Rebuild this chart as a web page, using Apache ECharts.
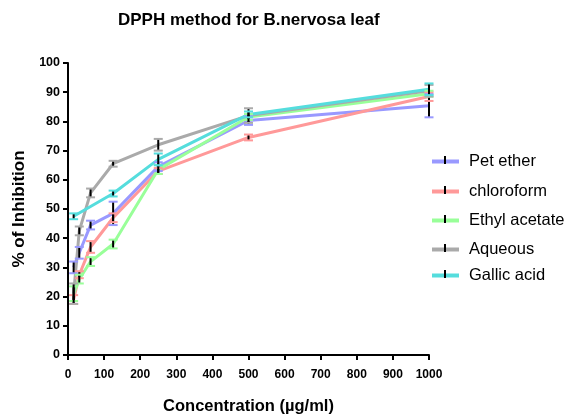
<!DOCTYPE html>
<html>
<head>
<meta charset="utf-8">
<script src="https://cdn.jsdelivr.net/npm/echarts@6/dist/echarts.min.js"></script>
<style>html,body{margin:0;padding:0;background:#fff}#c{width:569px;height:414px}</style>
</head>
<body>
<div id="c"></div>
<script>
const concentrations = [15.625, 31.25, 62.5, 125, 250, 500, 1000];
const gallicConcentrations = [15.625, 125, 250, 500, 1000];
const seriesNames = ['Pet ether', 'chloroform', 'Ethyl acetate', 'Aqueous', 'Gallic acid'];
const petEther = [30, 35, 44.5, 48.5, 64.5, 80.3, 85.4];
const petEtherErr = [2, 2, 1.5, 4, 1.5, 1.5, 4];
const chloroform = [19, 27.5, 37, 47, 63, 74.5, 88.5];
const chloroformErr = [1.5, 1.2, 2, 1.5, 1, 1, 1.5];
const ethylAcetate = [21, 26, 32, 38, 63.5, 81.5, 89.5];
const ethylAcetateErr = [2.5, 1.5, 1.5, 1.5, 1.5, 1, 1];
const aqueous = [21, 42.5, 55.5, 65.5, 72, 82, 90.5];
const aqueousErr = [3.5, 1.5, 1.5, 1, 2, 2.5, 2];
const gallicAcid = [47.5, 55.3, 67, 82.4, 91];
const gallicAcidErr = [1, 1, 2, 1, 2];
const yTicks = [0, 10, 20, 30, 40, 50, 60, 70, 80, 90, 100];
const xTicks = [0, 100, 200, 300, 400, 500, 600, 700, 800, 900, 1000];

const colors = ['#9999ff', '#ff9999', '#99ff99', '#aaaaaa', '#55dddd'];
const xsList = [concentrations, concentrations, concentrations, concentrations, gallicConcentrations];
const valsList = [petEther, chloroform, ethylAcetate, aqueous, gallicAcid];
const errsList = [petEtherErr, chloroformErr, ethylAcetateErr, aqueousErr, gallicAcidErr];

const chart = echarts.init(document.getElementById('c'), null, {renderer: 'canvas'});
const FONT = 'Liberation Sans, Arial, sans-serif';

const series = [];
seriesNames.forEach((name, i) => {
  series.push({
    name: name, type: 'line', color: colors[i],
    data: xsList[i].map((x, k) => [x, valsList[i][k]]),
    symbol: 'none', lineStyle: {width: 3, color: colors[i]},
    z: 2, animation: false
  });
});
seriesNames.forEach((name, i) => {
  series.push({
    name: name, type: 'custom', color: colors[i],
    data: xsList[i].map((x, k) => [x, valsList[i][k] - errsList[i][k], valsList[i][k] + errsList[i][k]]),
    encode: {x: 0, y: [1, 2]},
    z: 3, animation: false,
    renderItem: function (params, api) {
      const x = api.value(0);
      const lo = api.coord([x, api.value(1)]);
      const hi = api.coord([x, api.value(2)]);
      const w = 4.5;
      return {
        type: 'group',
        children: [
          {type: 'line', shape: {x1: lo[0], y1: lo[1], x2: hi[0], y2: hi[1]}, style: {stroke: '#000', lineWidth: 2}},
          {type: 'line', shape: {x1: lo[0] - w, y1: lo[1], x2: lo[0] + w, y2: lo[1]}, style: {stroke: colors[i], lineWidth: 2}},
          {type: 'line', shape: {x1: hi[0] - w, y1: hi[1], x2: hi[0] + w, y2: hi[1]}, style: {stroke: colors[i], lineWidth: 2}}
        ]
      };
    }
  });
});

const legendCenters = [160, 190, 219, 248, 274];
const legends = seriesNames.map((name, i) => ({
  data: [{name: name, icon: 'rect'}],
  left: 432, top: legendCenters[i] - 7, padding: 0,
  itemWidth: 27, itemHeight: 4, itemGap: 11,
  textStyle: {fontFamily: FONT, fontSize: 16.5, color: '#000', padding: [0, 0, 0, 5]},
  selectedMode: false
}));

const graphics = legendCenters.map(c => ({
  type: 'line', shape: {x1: 445, y1: c - 4, x2: 445, y2: c + 4},
  style: {stroke: '#000', lineWidth: 2}, z: 100
}));

chart.setOption({
  backgroundColor: '#fff',
  animation: false,
  title: {
    text: 'DPPH method for B.nervosa leaf', left: 118, top: 12, padding: 0,
    textStyle: {fontFamily: FONT, fontSize: 17, fontWeight: 'bold', color: '#000'}
  },
  grid: {left: 68, right: 140, top: 63, bottom: 59, containLabel: false, outerBoundsMode: 'none'},
  xAxis: {
    type: 'value', min: xTicks[0], max: xTicks[xTicks.length - 1], interval: 100,
    name: 'Concentration (µg/ml)', nameLocation: 'middle', nameGap: 43,
    nameTextStyle: {fontFamily: FONT, fontSize: 16.5, fontWeight: 'bold', color: '#000'},
    axisLine: {show: true, onZero: false, lineStyle: {color: '#000', width: 2}},
    axisTick: {show: true, length: 5, lineStyle: {color: '#000', width: 2}},
    axisLabel: {fontFamily: FONT, fontSize: 12, fontWeight: 'bold', color: '#000', margin: 14,
      formatter: v => String(v)},
    splitLine: {show: false}
  },
  yAxis: {
    type: 'value', min: yTicks[0], max: yTicks[yTicks.length - 1], interval: 10,
    name: '% of Inhibition', nameLocation: 'middle', nameGap: 36, nameRotate: 90,
    nameTextStyle: {fontFamily: FONT, fontSize: 17, fontWeight: 'bold', color: '#000'},
    axisLine: {show: true, onZero: false, lineStyle: {color: '#000', width: 2}},
    axisTick: {show: true, length: 5, lineStyle: {color: '#000', width: 2}},
    axisLabel: {fontFamily: FONT, fontSize: 12.5, fontWeight: 'bold', color: '#000', margin: 8},
    splitLine: {show: false}
  },
  legend: legends,
  graphic: graphics,
  series: series
});
</script>
</body>
</html>
